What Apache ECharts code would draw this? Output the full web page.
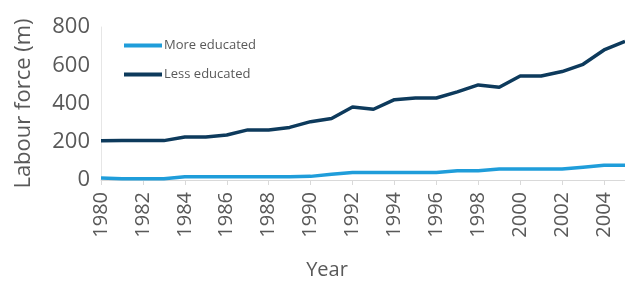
<!DOCTYPE html>
<html>
<head>
<meta charset="utf-8">
<script src="https://cdn.jsdelivr.net/npm/echarts@6/dist/echarts.min.js"></script>
<style>
  html, body { margin: 0; padding: 0; background: #fff; }
  #chart { width: 625px; height: 283px; }
</style>
</head>
<body>
<div id="chart"></div>
<script>
// labour force in millions
const years = ['1980','1981','1982','1983','1984','1985','1986','1987','1988','1989','1990','1991','1992',
  '1993','1994','1995','1996','1997','1998','1999','2000','2001','2002','2003','2004','2005'];
const moreEducated = [11, 7, 7, 7, 17, 17, 17, 17, 17, 17, 19, 30, 39, 39, 39, 39, 39, 48, 48, 57, 57, 57, 57, 67, 77, 77];
const lessEducated = [205, 206, 206, 206, 225, 225, 235, 262, 262, 275, 305, 322, 382, 370, 420, 429, 429, 461, 497, 485,
  544, 544, 567, 605, 680, 725];
const yTicks = { min: 0, max: 800, interval: 200 };

const font = '"Open Sans", "Noto Sans", sans-serif';
const grey = '#595959';

let chart = echarts.init(document.getElementById('chart'));
let option = {
    backgroundColor: '#fff',
    animation: false,
    textStyle: { fontFamily: font },
    grid: { left: 101, right: 0, top: 27, bottom: 103, outerBoundsMode: 'none', containLabel: false },
    legend: {
        orient: 'vertical',
        left: 119, top: 34,
        itemWidth: 38, itemHeight: 4,
        itemGap: 16,
        icon: 'rect',
        textStyle: { color: grey, fontSize: 13, fontFamily: font, padding: [0, 0, 0, -3] },
        data: ['More educated', 'Less educated']
    },
    xAxis: {
        type: 'category',
        data: years,
        boundaryGap: false,
        name: 'Year',
        nameLocation: 'middle',
        nameGap: 80,
        nameTextStyle: { color: grey, fontSize: 20, fontFamily: font, padding: [0, 72, 0, 0] },
        axisLine: { lineStyle: { color: '#d9d9d9', width: 1 } },
        axisTick: { interval: 1, length: 5, lineStyle: { color: '#d9d9d9' } },
        axisLabel: { interval: 1, rotate: 90, margin: 12, color: grey, fontSize: 20, fontFamily: font }
    },
    yAxis: {
        type: 'value',
        min: yTicks.min, max: yTicks.max, interval: yTicks.interval,
        name: 'Labour force (m)',
        nameLocation: 'middle',
        nameGap: 66,
        nameTextStyle: { color: grey, fontSize: 22, fontFamily: font },
        axisLine: { show: true, lineStyle: { color: '#e6e6e6', width: 1 } },
        axisTick: { show: false },
        splitLine: { show: false },
        axisLabel: { margin: 11, color: grey, fontSize: 22, fontFamily: font }
    },
    series: [
        {
            name: 'More educated', type: 'line', data: moreEducated,
            showSymbol: false, symbol: 'none',
            lineStyle: { color: '#1f9dda', width: 3.5 },
            itemStyle: { color: '#1f9dda' }
        },
        {
            name: 'Less educated', type: 'line', data: lessEducated,
            showSymbol: false, symbol: 'none',
            lineStyle: { color: '#0d3a5c', width: 3.5 },
            itemStyle: { color: '#0d3a5c' }
        }
    ]
};
chart.setOption(option, true);
</script>
</body>
</html>
